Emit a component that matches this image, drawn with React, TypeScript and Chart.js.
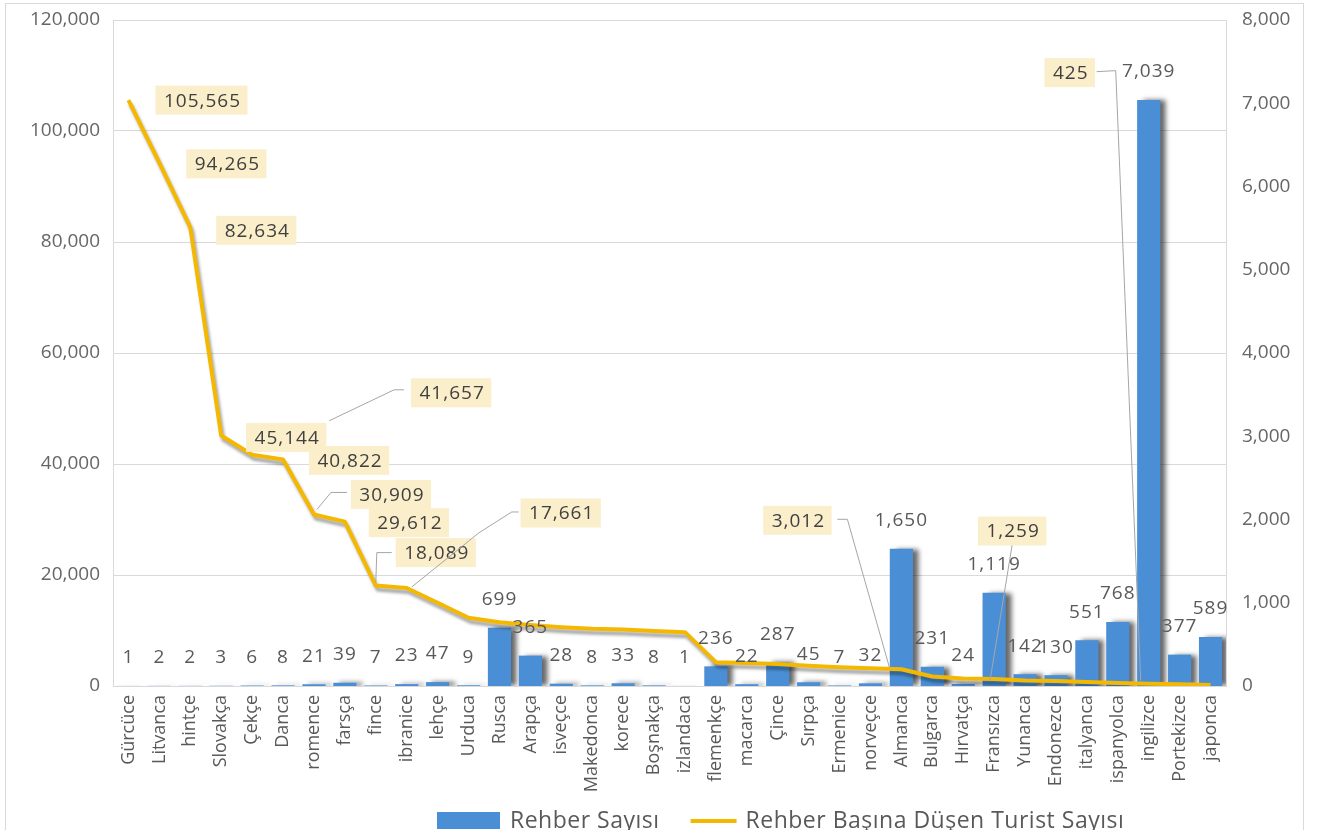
import React, { useEffect, useRef } from 'react';
import { Chart, registerables } from 'chart.js';

Chart.register(...registerables);

// ---------- data ----------
const categories = [
  'Gürcüce', 'Litvanca', 'hintçe', 'Slovakça', 'Çekçe', 'Danca', 'romence', 'farsça', 'fince',
  'ibranice', 'lehçe', 'Urduca', 'Rusca', 'Arapça', 'isveçce', 'Makedonca', 'korece', 'Boşnakça',
  'izlandaca', 'flemenkçe', 'macarca', 'Çince', 'Sırpça', 'Ermenice', 'norveçce', 'Almanca',
  'Bulgarca', 'Hırvatça', 'Fransızca', 'Yunanca', 'Endonezce', 'italyanca', 'ispanyolca',
  'ingilizce', 'Portekizce', 'japonca',
];

const guideCounts = [
  1, 2, 2, 3, 6, 8, 21, 39, 7, 23, 47, 9, 699, 365, 28, 8, 33, 8, 1, 236, 22, 287, 45, 7, 32,
  1650, 231, 24, 1119, 142, 130, 551, 768, 7039, 377, 589,
];

const touristsPerGuide = [
  105565, 94265, 82634, 45144, 41657, 40822, 30909, 29612, 18089, 17661, 15000, 12300, 11500,
  11000, 10600, 10300, 10200, 9900, 9700, 4300, 4150, 3950, 3650, 3400, 3200, 3012, 1700, 1350,
  1259, 1000, 900, 700, 550, 425, 300, 200,
];

const leftTicks = [0, 20000, 40000, 60000, 80000, 100000, 120000];
const rightTicks = [0, 1000, 2000, 3000, 4000, 5000, 6000, 7000, 8000];

const seriesNames = ['Rehber Sayısı', 'Rehber Başına Düşen Turist Sayısı'];

// which line points carry a label (index into the arrays above)
const labelledLinePoints = [0, 1, 2, 3, 4, 5, 6, 7, 8, 9, 25, 28, 33];

// ---------- styles ----------
const BAR_COLOR = '#4a8fd6';
const LINE_COLOR = '#f5b800';
const AXIS_TEXT = '#666666';
const LABEL_TEXT = '#595959';
const BOX_FILL = '#fbeecb';
const GRID = '#d9d9d9';
const FONT = '"Open Sans", "Noto Sans", sans-serif';

// label box placement relative to each labelled point (pixels) + optional leader lines
const labelPlacement: Record<number, { dx: number; dy: number; leader?: number[][] }> = {
  0: { dx: 73, dy: 0 },
  1: { dx: 67, dy: 1 },
  2: { dx: 66, dy: 3 },
  3: { dx: 65, dy: 2 },
  4: { dx: 199, dy: -62, leader: [[77, -34], [142, -65], [152, -65]] },
  5: { dx: 66, dy: 1 },
  6: { dx: 77, dy: -20, leader: [[3, -5], [17, -22], [33, -22]] },
  7: { dx: 64, dy: 1 },
  8: { dx: 60, dy: -33, leader: [[0, -3], [1, -33], [16, -33]] },
  9: { dx: 154, dy: -75, leader: [[5, -1], [72, -55], [105, -76], [112, -76]] },
  25: { dx: -104, dy: -149, leader: [[-12, -2], [-54, -150], [-64, -150]] },
  28: { dx: 18, dy: -148, leader: [[-4, 1], [18, -134]] },
  33: { dx: -79, dy: -611, leader: [[-8, -3], [-33, -613], [-52, -612]] },
};

const fmt = (v: number) => Number(v).toLocaleString('en-US');

const shadowPlugin = {
  id: 'shadows',
  beforeDatasetDraw(chart: any, args: any) {
    const ctx = chart.ctx;
    ctx.save();
    if (args.index === 0) {
      ctx.shadowColor = 'rgba(0,0,0,0.6)';
      ctx.shadowBlur = 5;
      ctx.shadowOffsetX = 6;
      ctx.shadowOffsetY = 0;
    } else {
      ctx.shadowColor = 'rgba(0,0,0,0.35)';
      ctx.shadowBlur = 3;
      ctx.shadowOffsetX = 2;
      ctx.shadowOffsetY = 4;
    }
  },
  afterDatasetDraw(chart: any) {
    chart.ctx.restore();
  },
};

const frameAndLegendPlugin = {
  id: 'frameLegend',
  beforeDraw(chart: any) {
    const ctx = chart.ctx;
    ctx.save();
    ctx.fillStyle = '#ffffff';
    ctx.fillRect(0, 0, chart.width, chart.height);
    ctx.strokeStyle = GRID;
    ctx.lineWidth = 1;
    ctx.strokeRect(5.5, 3.5, 1298, 900);
    ctx.restore();
  },
  afterDraw(chart: any) {
    const ctx = chart.ctx;
    ctx.save();
    const cy = 821;
    let x = 437;
    ctx.fillStyle = BAR_COLOR;
    ctx.fillRect(x, cy - 9, 63, 17);
    x += 73;
    ctx.font = `23px ${FONT}`;
    (ctx as any).letterSpacing = '0.5px';
    ctx.textAlign = 'left';
    ctx.textBaseline = 'middle';
    ctx.fillStyle = LABEL_TEXT;
    ctx.fillText(seriesNames[0], x, cy);
    x += ctx.measureText(seriesNames[0]).width + 31;
    ctx.strokeStyle = LINE_COLOR;
    ctx.lineWidth = 4;
    ctx.beginPath();
    ctx.moveTo(x, cy);
    ctx.lineTo(x + 46, cy);
    ctx.stroke();
    x += 55;
    ctx.fillText(seriesNames[1], x, cy);
    ctx.restore();
  },
};

const valueLabelPlugin = {
  id: 'valueLabels',
  afterDatasetsDraw(chart: any) {
    const ctx = chart.ctx;
    const barMeta = chart.getDatasetMeta(0);
    const lineMeta = chart.getDatasetMeta(1);
    ctx.save();
    ctx.font = `19px ${FONT}`;
    (ctx as any).letterSpacing = '1px';
    ctx.textAlign = 'center';
    ctx.textBaseline = 'middle';
    ctx.fillStyle = LABEL_TEXT;
    barMeta.data.forEach((el: any, i: number) => {
      ctx.fillText(fmt(guideCounts[i]), el.x, el.y - 28);
    });

    labelledLinePoints.forEach((i) => {
      const pt = lineMeta.data[i];
      const place = labelPlacement[i];
      const text = fmt(touristsPerGuide[i]);
      const cx = pt.x + place.dx;
      const cy = pt.y + place.dy;
      const w = ctx.measureText(text).width + 15;
      const h = 29;
      if (place.leader) {
        ctx.strokeStyle = '#a6a6a6';
        ctx.lineWidth = 1;
        ctx.beginPath();
        place.leader.forEach((p, k) => {
          if (k === 0) ctx.moveTo(pt.x + p[0], pt.y + p[1]);
          else ctx.lineTo(pt.x + p[0], pt.y + p[1]);
        });
        ctx.stroke();
      }
      ctx.fillStyle = BOX_FILL;
      ctx.fillRect(cx - w / 2, cy - h / 2, w, h);
      ctx.fillStyle = '#404040';
      ctx.fillText(text, cx + 1, cy + 1);
    });
    ctx.restore();
  },
};

export default function App() {
  const ref = useRef<HTMLCanvasElement>(null);

  useEffect(() => {
    document.body.style.margin = '0';
    const canvas = ref.current;
    if (!canvas) return;
    const chart = new Chart(canvas, {
      type: 'bar',
      data: {
        labels: categories,
        datasets: [
          {
            type: 'bar',
            label: seriesNames[0],
            data: guideCounts,
            yAxisID: 'y1',
            backgroundColor: BAR_COLOR,
            barPercentage: 0.75,
            categoryPercentage: 1,
            order: 1,
          },
          {
            type: 'line',
            label: seriesNames[1],
            data: touristsPerGuide,
            yAxisID: 'y',
            borderColor: LINE_COLOR,
            backgroundColor: LINE_COLOR,
            borderWidth: 4,
            pointRadius: 0,
            tension: 0,
            borderJoinStyle: 'round',
            order: 0,
          } as any,
        ],
      },
      options: {
        responsive: false,
        animation: false,
        layout: { padding: { top: 20, left: 0, right: 0, bottom: 0 } },
        plugins: {
          legend: { display: false },
          tooltip: { enabled: false },
        },
        scales: {
          x: {
            offset: true,
            grid: { display: false, drawTicks: false },
            border: { color: GRID },
            ticks: {
              autoSkip: false,
              minRotation: 90,
              maxRotation: 90,
              padding: 9,
              color: LABEL_TEXT,
              font: { family: FONT, size: 18 },
            },
            afterFit: (s: any) => {
              s.height = 144;
              s.paddingLeft = 0;
              s.paddingRight = 0;
            },
          },
          y: {
            position: 'left',
            min: leftTicks[0],
            max: leftTicks[leftTicks.length - 1],
            afterBuildTicks: (s: any) => {
              s.ticks = leftTicks.map((v) => ({ value: v }));
            },
            grid: { color: GRID, drawTicks: false },
            border: { color: GRID },
            ticks: {
              padding: 13,
              color: AXIS_TEXT,
              font: { family: FONT, size: 19 },
              callback: (v: any) => fmt(v),
            },
            afterFit: (s: any) => {
              s.width = 113;
              s.paddingTop = 0;
              s.paddingBottom = 0;
            },
          },
          y1: {
            position: 'right',
            min: rightTicks[0],
            max: rightTicks[rightTicks.length - 1],
            afterBuildTicks: (s: any) => {
              s.ticks = rightTicks.map((v) => ({ value: v }));
            },
            grid: { display: false, drawTicks: false },
            border: { color: GRID },
            ticks: {
              padding: 16,
              color: AXIS_TEXT,
              font: { family: FONT, size: 19 },
              callback: (v: any) => fmt(v),
            },
            afterFit: (s: any) => {
              s.width = 94;
              s.paddingTop = 0;
              s.paddingBottom = 0;
            },
          },
        },
      } as any,
      plugins: [frameAndLegendPlugin, shadowPlugin, valueLabelPlugin],
    });
    return () => chart.destroy();
  }, []);

  return (
    <div style={{ position: 'relative', width: 1320, height: 830, background: '#fff', overflow: 'hidden' }}>
      <canvas ref={ref} width={1320} height={830} style={{ display: 'block', width: 1320, height: 830 }} />
    </div>
  );
}
